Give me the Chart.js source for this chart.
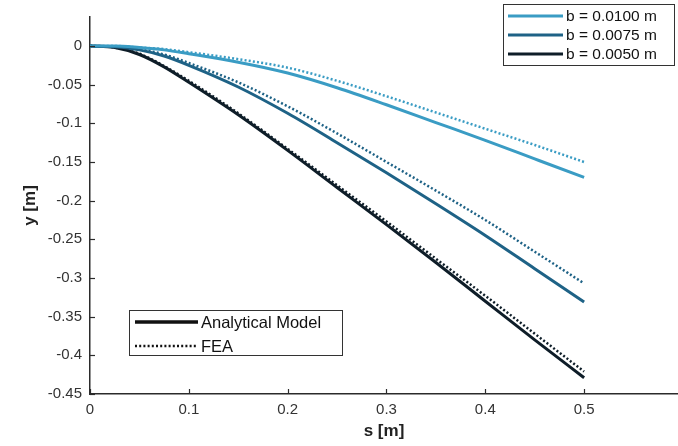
<!DOCTYPE html>
<html lang="en">
<head>
  <meta charset="UTF-8">
  <title>Deflection y vs s</title>
  <script src="https://cdn.jsdelivr.net/npm/chart.js"></script>
  <style>
    html,body{margin:0;padding:0;background:#fff}
    #wrap{width:678px;height:446px;position:relative}
  </style>
</head>
<body>
<div id="wrap"><canvas id="c"></canvas></div>
<script>
/* ---------- data ---------- */
const S = [0, 0.025, 0.05, 0.075, 0.1, 0.15, 0.2, 0.25, 0.3, 0.35, 0.4, 0.45, 0.5];

// analytical model
const yA_0100 = [0, 0, -0.002, -0.005, -0.010, -0.021, -0.035, -0.054, -0.076, -0.099, -0.122, -0.146, -0.170];
const yA_0075 = [0, -0.001, -0.005, -0.013, -0.025, -0.053, -0.087, -0.125, -0.164, -0.204, -0.245, -0.288, -0.331];
const yA_0050 = [0, -0.002, -0.011, -0.027, -0.047, -0.089, -0.135, -0.183, -0.231, -0.280, -0.330, -0.380, -0.429];

// FEA
const yF_0100 = [0, 0, -0.002, -0.004, -0.008, -0.017, -0.028, -0.045, -0.065, -0.086, -0.107, -0.128, -0.150];
const yF_0075 = [0, -0.001, -0.004, -0.011, -0.022, -0.047, -0.078, -0.113, -0.150, -0.187, -0.225, -0.266, -0.307];
const yF_0050 = [0, -0.002, -0.010, -0.026, -0.045, -0.087, -0.133, -0.180, -0.227, -0.275, -0.323, -0.372, -0.421];

const widthLabels = ['b = 0.0100 m', 'b = 0.0075 m', 'b = 0.0050 m'];
const modelLabels = ['Analytical Model', 'FEA'];
const xTicks = [0, 0.1, 0.2, 0.3, 0.4, 0.5];
const yTicks = [0, -0.05, -0.1, -0.15, -0.2, -0.25, -0.3, -0.35, -0.4, -0.45];

const colors = ['#3a9cc4', '#1e6286', '#0e1d28'];
const AXIS = '#2b2b2b';
const FONT = '"Liberation Sans", Arial, sans-serif';

/* ---------- helpers ---------- */
const pts = ys => S.map((x, i) => ({x, y: ys[i]}));
function solid(label, ys, c){
  return {label, data: pts(ys), borderColor: c, backgroundColor: c, borderWidth: 3,
          pointRadius: 0, fill: false, cubicInterpolationMode: 'monotone'};
}
function dotted(label, ys, c){
  return {label, data: pts(ys), borderColor: c, backgroundColor: c, borderWidth: 2.5,
          borderDash: [2, 2.2], pointRadius: 0, fill: false, cubicInterpolationMode: 'monotone'};
}

/* ---------- plugin: inward ticks + boxed legends ---------- */
const matlabLook = {
  id: 'matlabLook',
  afterDraw(chart){
    const ctx = chart.ctx, xs = chart.scales.x, ys = chart.scales.y;
    ctx.save();
    ctx.strokeStyle = AXIS;
    ctx.lineWidth = 1.2;
    xTicks.forEach(v => {
      const p = Math.round(xs.getPixelForValue(v)) + 0.5;
      ctx.beginPath(); ctx.moveTo(p, ys.bottom); ctx.lineTo(p, ys.bottom - 5); ctx.stroke();
    });
    yTicks.forEach(v => {
      const p = Math.round(ys.getPixelForValue(v)) + 0.5;
      ctx.beginPath(); ctx.moveTo(xs.left, p); ctx.lineTo(xs.left + 5, p); ctx.stroke();
    });

    // legend 1 : plate widths
    ctx.fillStyle = '#fff';
    ctx.fillRect(503, 4, 172, 62);
    ctx.strokeStyle = '#333'; ctx.lineWidth = 1;
    ctx.strokeRect(503.5, 4.5, 171, 61);
    ctx.font = '15.5px ' + FONT;
    ctx.textBaseline = 'middle';
    widthLabels.forEach((t, i) => {
      const y = 16 + i * 19;
      ctx.strokeStyle = colors[i]; ctx.lineWidth = 3; ctx.setLineDash([]);
      ctx.beginPath(); ctx.moveTo(508, y); ctx.lineTo(563, y); ctx.stroke();
      ctx.fillStyle = '#111'; ctx.fillText(t, 566, y + 1);
    });

    // legend 2 : model type
    ctx.fillStyle = '#fff';
    ctx.fillRect(129, 310, 214, 46);
    ctx.strokeStyle = '#333'; ctx.lineWidth = 1;
    ctx.strokeRect(129.5, 310.5, 213, 45);
    ctx.font = '16.5px ' + FONT;
    modelLabels.forEach((t, i) => {
      const y = 322 + i * 24;
      ctx.strokeStyle = '#111';
      ctx.lineWidth = i === 0 ? 3.5 : 2.5;
      ctx.setLineDash(i === 0 ? [] : [2, 2.2]);
      ctx.beginPath(); ctx.moveTo(135, y); ctx.lineTo(198, y); ctx.stroke();
      ctx.setLineDash([]);
      ctx.fillStyle = '#111'; ctx.fillText(t, 201, y + 1);
    });
    ctx.restore();
  }
};

/* ---------- chart ---------- */
Chart.defaults.font.family = FONT;
Chart.defaults.color = AXIS;

const tickFmt = v => (Math.abs(v) < 1e-9 ? '0' : String(+v.toFixed(2)));

new Chart(document.getElementById('c'), {
  type: 'line',
  data: {
    datasets: [
      solid(widthLabels[0] + ' analytical', yA_0100, colors[0]),
      solid(widthLabels[1] + ' analytical', yA_0075, colors[1]),
      solid(widthLabels[2] + ' analytical', yA_0050, colors[2]),
      dotted(widthLabels[0] + ' FEA', yF_0100, colors[0]),
      dotted(widthLabels[1] + ' FEA', yF_0075, colors[1]),
      dotted(widthLabels[2] + ' FEA', yF_0050, colors[2])
    ]
  },
  options: {
    responsive: true,
    maintainAspectRatio: false,
    animation: false,
    layout: {padding: {top: 2, right: 0, left: 16, bottom: 0}},
    plugins: {legend: {display: false}, tooltip: {enabled: false}},
    scales: {
      x: {
        type: 'linear', min: 0, max: 0.595,
        grid: {display: false, drawTicks: false},
        border: {display: true, color: AXIS, width: 1.5},
        ticks: {stepSize: 0.1, includeBounds: false, padding: 7, maxRotation: 0,
                font: {size: 15}, color: '#333', callback: tickFmt},
        title: {display: true, text: 's [m]', font: {size: 17, weight: 'bold'}, color: '#222', padding: {top: 1}},
        afterFit: s => { s.height = 52; }
      },
      y: {
        type: 'linear', min: -0.45, max: 0.0375,
        grid: {display: false, drawTicks: false},
        border: {display: true, color: AXIS, width: 1.5},
        ticks: {stepSize: 0.05, includeBounds: false, padding: 8,
                font: {size: 15}, color: '#333', callback: tickFmt},
        title: {display: true, text: 'y [m]', font: {size: 17, weight: 'bold'}, color: '#222', padding: {bottom: 2}},
        afterFit: s => { s.width = 74; }
      }
    }
  },
  plugins: [matlabLook]
});
</script>
</body>
</html>
